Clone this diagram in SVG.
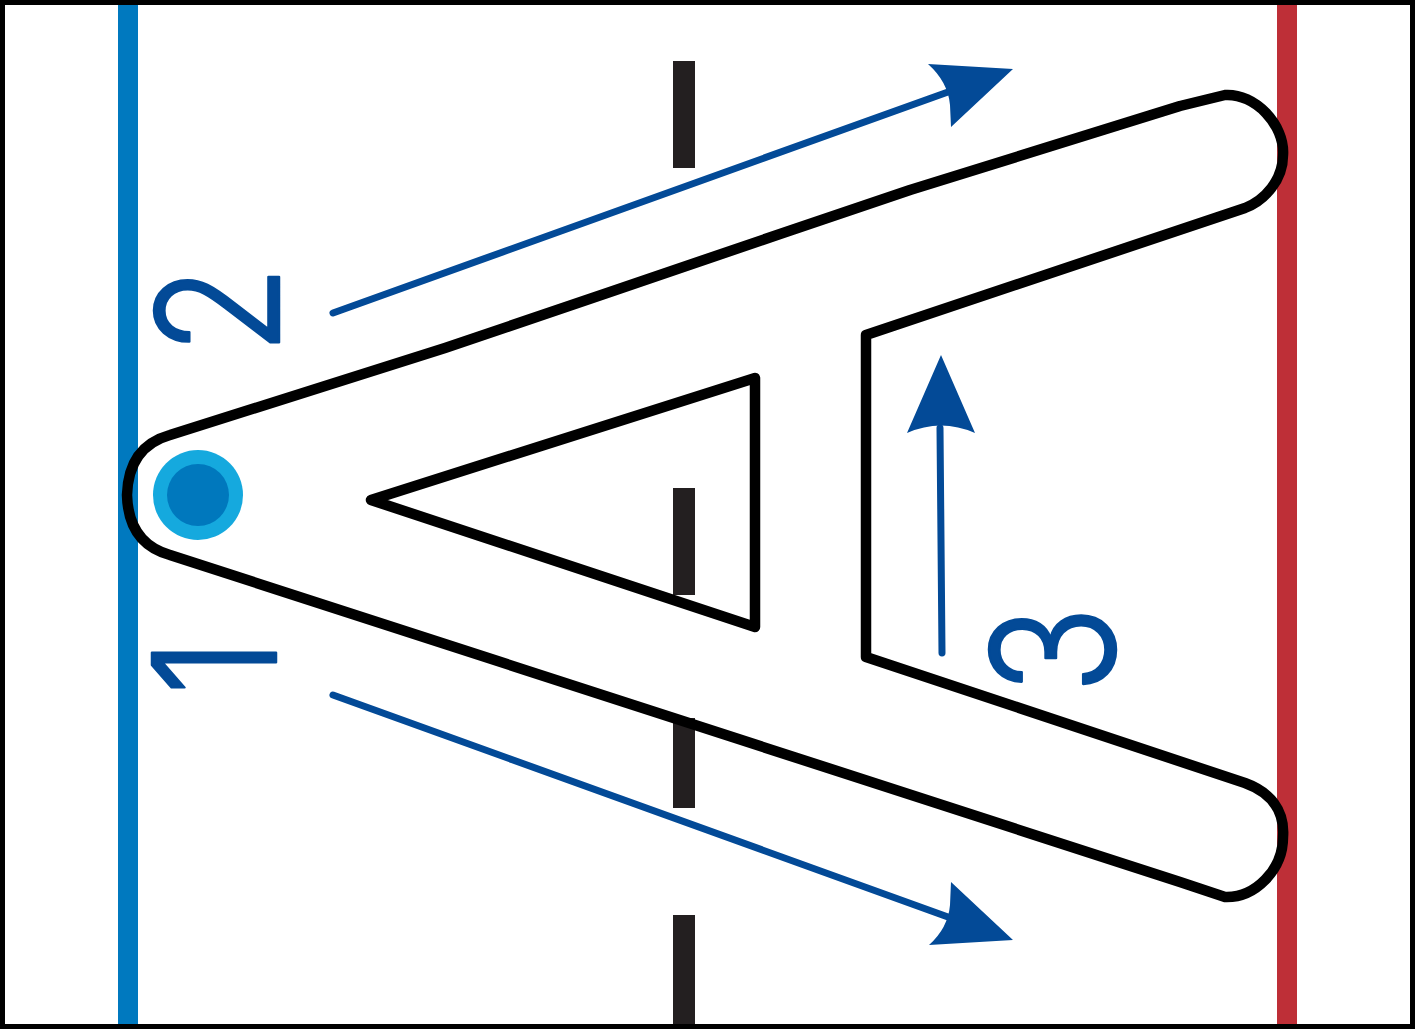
<svg xmlns="http://www.w3.org/2000/svg" width="1415" height="1029" viewBox="0 0 1415 1029">
<style>
.dash{fill:#231F20}
.aline{fill:none;stroke:#000;stroke-width:10.5;stroke-linejoin:round;stroke-linecap:round}
.shaft{fill:none;stroke:#034A97;stroke-width:7;stroke-linecap:round}
.head{fill:#034A97}
.num{font-family:Inter,"Liberation Sans",sans-serif;font-weight:300;font-size:170px;fill:#034A97;stroke:#034A97;stroke-width:2.5;stroke-linejoin:round}
</style>
<rect x="0" y="0" width="1415" height="1029" fill="#fff"/>
<g id="lines">
<rect x="118" y="4" width="20" height="1021" fill="#0079BF"/>
<rect x="1277" y="4" width="20" height="1021" fill="#BE2F37"/>
<rect class="dash" x="673" y="61" width="22" height="107"/>
<rect class="dash" x="673" y="488" width="22" height="107"/>
<rect class="dash" x="673" y="718" width="22" height="90"/>
<rect class="dash" x="673" y="915" width="22" height="110"/>
</g>
<g id="letterA">
<path class="aline" d="M170,435 L445,348 L610,292 L780,234 L910,190 L1180,106 L1225,95 C1255,93 1285,125 1283,155 C1283,180 1265,200 1245,208 L866,335 L866,657 L1245,783 C1270,792 1285,810 1283,837 C1283,870 1255,898 1225,897 L1180,882 L170,555 C145,548 128,530 127,495 C128,460 145,442 170,435 Z"/>
<path class="aline" d="M371,500 L755,378 L755,627 Z"/>
</g>
<g id="puck">
<circle cx="198" cy="495" r="45" fill="#15A9DE"/>
<circle cx="198" cy="495" r="31" fill="#0078BD"/>
</g>
<g id="connectors">
<g id="arrow2">
<line class="shaft" x1="333" y1="313" x2="948" y2="92"/>
<path class="head" d="M1013,69 L928,64 Q948,82 950,105 L951,127 Z"/>
</g>
<g id="arrow1">
<line class="shaft" x1="333" y1="695" x2="948" y2="917"/>
<path class="head" d="M1013,940 L929,945 Q948,928 950,905 L951,882 Z"/>
</g>
<g id="arrow3">
<line class="shaft" x1="942" y1="653" x2="940" y2="428"/>
<path class="head" d="M941,355 L975,433 Q941,418 907,433 Z"/>
</g>
</g>
<g id="labels">
<text class="num" text-anchor="middle" transform="translate(279,310) rotate(-90) scale(0.85,1)">2</text>
<text class="num" text-anchor="middle" transform="translate(276,667) rotate(-90) scale(0.85,1)">1</text>
<text class="num" text-anchor="middle" transform="translate(1114,650) rotate(-90) scale(0.85,1)">3</text>
</g>
<rect x="2.5" y="2.5" width="1410" height="1024" fill="none" stroke="#000" stroke-width="5"/>
</svg>
